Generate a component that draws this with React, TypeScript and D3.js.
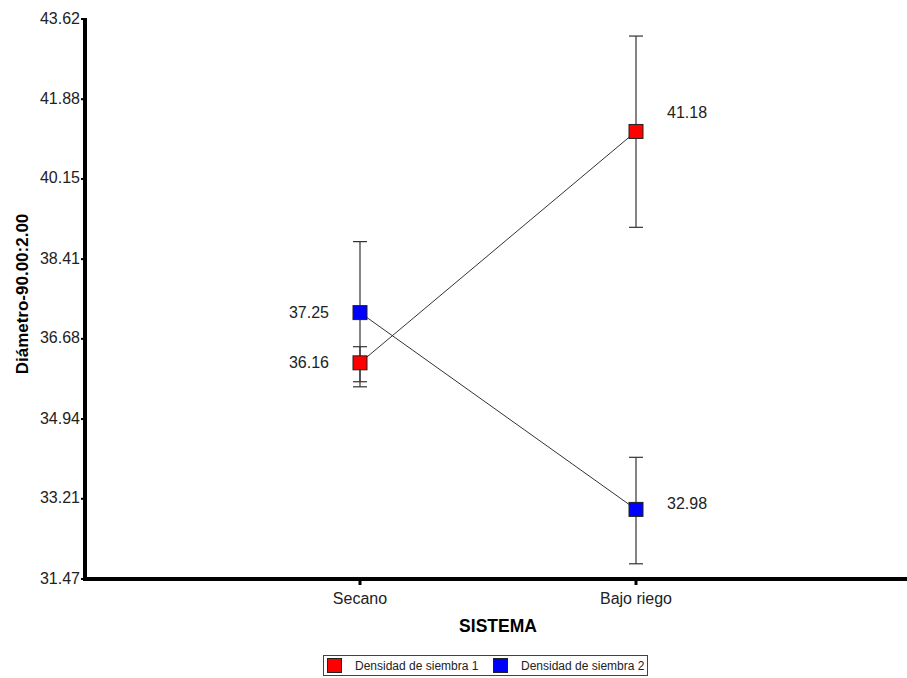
import React from "react";
import * as d3 from "d3";

const categories = ["Secano", "Bajo riego"];
const seriesNames = ["Densidad de siembra 1", "Densidad de siembra 2"];
const seriesColors = ["#FF0000", "#0000FF"];
const means1 = [36.16, 41.18];
const means2 = [37.25, 32.98];
const low1 = [35.75, 39.1];
const high1 = [36.51, 43.25];
const low2 = [35.64, 31.8];
const high2 = [38.79, 34.11];
const yTicks = [31.47, 33.21, 34.94, 36.68, 38.41, 40.15, 41.88, 43.62];
const labelOffsets = [
  [[-31, 0], [31, -19]],
  [[-31, 0], [31, -6]],
];

const W = 907;
const H = 678;
const FONT = "Arial, 'Liberation Sans', sans-serif";

export default function App() {
  const x = d3.scalePoint<string>().domain(categories).range([84, 912]).padding(1);
  const y = d3.scaleLinear().domain([31.47, 43.62]).range([579, 19]);
  const series = [
    { name: seriesNames[0], color: seriesColors[0], means: means1, low: low1, high: high1 },
    { name: seriesNames[1], color: seriesColors[1], means: means2, low: low2, high: high2 },
  ];
  const line = d3
    .line<number>()
    .x((_, i) => x(categories[i]) as number)
    .y((d) => y(d));

  return (
    <svg
      width={W}
      height={H}
      style={{ position: "absolute", left: 0, top: 0, background: "#fff" }}
      fontFamily={FONT}
    >
      <rect x={0} y={0} width={W} height={H} fill="#fff" />
      {/* Y axis */}
      {yTicks.map((t) => (
        <g key={t}>
          <rect x={81} y={y(t) - 1} width={3} height={2} fill="#000" />
          <text
            x={80}
            y={y(t) - 1}
            textAnchor="end"
            dominantBaseline="central"
            fontSize={16}
            fill="#222"
          >
            {t.toFixed(2)}
          </text>
        </g>
      ))}
      <line x1={85} x2={85} y1={18} y2={581} stroke="#000" strokeWidth={4} />
      <line x1={83} x2={907} y1={579} y2={579} stroke="#000" strokeWidth={4} />
      {categories.map((c) => (
        <g key={c}>
          <rect x={(x(c) as number) - 1.5} y={580} width={3} height={5} fill="#000" />
          <text x={x(c)} y={604} textAnchor="middle" fontSize={16} fill="#222">
            {c}
          </text>
        </g>
      ))}
      <text x={498} y={632} textAnchor="middle" fontSize={17.5} fontWeight="bold" fill="#000">
        SISTEMA
      </text>
      <text
        transform={`translate(28,294) rotate(-90)`}
        textAnchor="middle"
        fontSize={17}
        fontWeight="bold"
        fill="#000"
      >
        Diámetro-90.00:2.00
      </text>

      {/* connecting lines */}
      {series.map((s) => (
        <path key={s.name} d={line(s.means) || ""} fill="none" stroke="#333" strokeWidth={1} />
      ))}
      {/* error bars */}
      {series.map((s) =>
        categories.map((c, i) => {
          const cx = x(c) as number;
          return (
            <g key={s.name + c} stroke="#333" strokeWidth={1.2}>
              <line x1={cx} x2={cx} y1={y(s.low[i])} y2={y(s.high[i])} />
              <line x1={cx - 7} x2={cx + 7} y1={y(s.low[i])} y2={y(s.low[i])} />
              <line x1={cx - 7} x2={cx + 7} y1={y(s.high[i])} y2={y(s.high[i])} />
            </g>
          );
        })
      )}
      {/* markers */}
      {series.map((s) =>
        categories.map((c, i) => {
          const cx = x(c) as number;
          const cy = y(s.means[i]);
          return (
            <rect
              key={s.name + c + "m"}
              x={cx - 7}
              y={cy - 7}
              width={14}
              height={14}
              fill={s.color}
              stroke="#222"
              strokeWidth={1}
            />
          );
        })
      )}
      {/* value labels */}
      {series.map((s, si) =>
        categories.map((c, i) => {
          const cx = x(c) as number;
          const cy = y(s.means[i]);
          const [dx, dy] = labelOffsets[si][i];
          return (
            <text
              key={s.name + c + "l"}
              x={cx + dx}
              y={cy + dy}
              textAnchor={dx < 0 ? "end" : "start"}
              dominantBaseline="central"
              fontSize={16}
              fill="#222"
            >
              {s.means[i].toFixed(2)}
            </text>
          );
        })
      )}

      {/* legend */}
      <rect x={323.5} y={655.5} width={324} height={20} fill="#fff" stroke="#444" strokeWidth={1} />
      {series.map((s, i) => {
        const sx = i === 0 ? 327 : 493;
        return (
          <g key={s.name + "leg"}>
            <rect x={sx + 0.5} y={658.5} width={14} height={14} fill={s.color} stroke="#222" strokeWidth={1} />
            <text x={sx + 28} y={666} dominantBaseline="central" fontSize={12} fill="#222">
              {s.name}
            </text>
          </g>
        );
      })}
    </svg>
  );
}
